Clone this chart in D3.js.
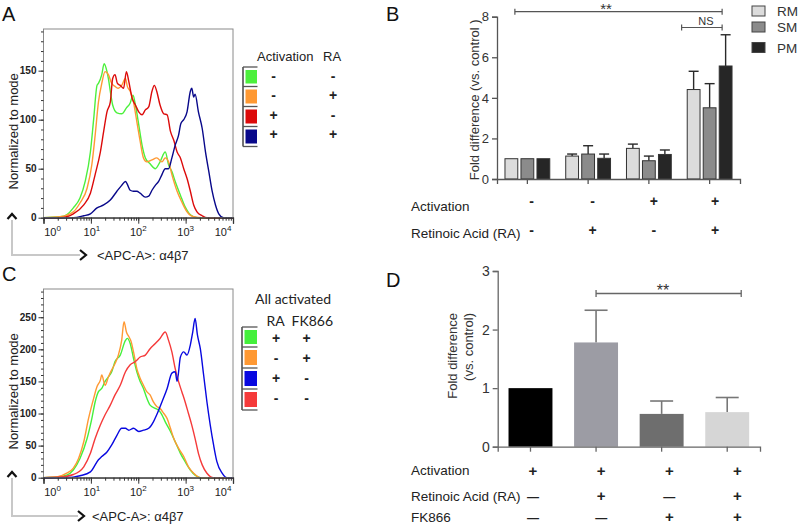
<!DOCTYPE html>
<html><head><meta charset="utf-8">
<script src="https://cdn.jsdelivr.net/npm/d3@7"></script>
<style>body{margin:0;background:#fff}svg{display:block}</style>
</head><body><svg id="c" width="800" height="528"></svg>
<script>
// ---------------- DATA ----------------
// Histograms: [log10(intensity), count]
const histA_green = [[0,0],[0.35,1],[0.49,3],[0.63,10],[0.77,20],[0.88,37],[0.99,67],[1.06,101],[1.13,135],[1.16,137],[1.23,146],[1.28,157],[1.34,149],[1.37,142],[1.41,129],[1.46,115],[1.55,107],[1.65,106],[1.75,112],[1.83,117],[1.89,125],[1.94,115],[2.01,95],[2.08,74],[2.15,61],[2.25,55],[2.36,50],[2.46,57],[2.57,67],[2.64,54],[2.71,47],[2.78,37],[2.89,23],[2.99,11],[3.10,3],[3.24,0],[4,0]];
const histA_orange = [[0,0],[0.35,1],[0.63,6],[0.77,15],[0.92,30],[1.02,54],[1.09,84],[1.16,118],[1.23,137],[1.30,149],[1.37,146],[1.44,137],[1.51,134],[1.58,132],[1.65,135],[1.73,142],[1.77,134],[1.83,129],[1.90,118],[1.97,98],[2.04,78],[2.11,61],[2.18,57],[2.29,59],[2.39,61],[2.50,57],[2.57,61],[2.64,57],[2.71,44],[2.82,27],[2.92,16],[3.03,6],[3.17,1],[3.35,0],[4,0]];
const histA_red = [[0,0],[0.35,0],[0.63,4],[0.85,13],[0.99,25],[1.09,44],[1.20,67],[1.27,88],[1.34,108],[1.41,118],[1.46,142],[1.51,146],[1.56,137],[1.62,135],[1.69,132],[1.75,149],[1.80,139],[1.87,122],[1.94,115],[2.01,108],[2.08,105],[2.15,110],[2.22,113],[2.29,129],[2.34,135],[2.39,129],[2.46,115],[2.54,106],[2.61,105],[2.68,88],[2.75,79],[2.82,67],[2.89,61],[2.96,50],[3.03,40],[3.10,27],[3.17,13],[3.24,6],[3.35,2],[3.45,0],[4,0]];
const histA_blue = [[0,0],[0.35,0],[0.63,0],[0.85,2],[0.99,4],[1.13,10],[1.27,13],[1.41,18],[1.55,27],[1.65,33],[1.73,37],[1.77,34],[1.83,28],[1.90,27],[1.97,27],[2.04,25],[2.15,21],[2.22,22],[2.29,28],[2.36,33],[2.43,37],[2.50,44],[2.57,50],[2.64,50],[2.71,61],[2.78,74],[2.85,84],[2.90,96],[2.96,100],[3.03,108],[3.10,129],[3.13,132],[3.17,123],[3.20,126],[3.27,108],[3.35,91],[3.42,67],[3.49,47],[3.56,27],[3.63,13],[3.70,4],[3.80,0],[4,0]];

const histC_green = [[0,0],[0.28,1],[0.49,4],[0.63,12],[0.77,30],[0.92,61],[1.02,92],[1.09,118],[1.16,134],[1.23,139],[1.30,150],[1.37,157],[1.44,165],[1.51,181],[1.62,191],[1.73,214],[1.77,217],[1.83,209],[1.90,186],[1.97,165],[2.04,150],[2.11,139],[2.18,124],[2.25,113],[2.36,108],[2.43,105],[2.50,98],[2.57,87],[2.68,72],[2.78,56],[2.89,38],[2.99,25],[3.10,12],[3.20,4],[3.31,0],[4,0]];
const histC_orange = [[0,0],[0.28,1],[0.49,7],[0.63,15],[0.74,30],[0.85,56],[0.95,92],[1.06,124],[1.13,142],[1.20,152],[1.23,160],[1.30,144],[1.37,157],[1.44,168],[1.51,178],[1.58,191],[1.65,214],[1.70,243],[1.75,227],[1.80,220],[1.85,212],[1.90,196],[1.97,170],[2.04,155],[2.11,144],[2.18,134],[2.25,129],[2.32,118],[2.39,111],[2.46,108],[2.54,100],[2.61,92],[2.68,77],[2.75,61],[2.85,46],[2.96,33],[3.06,17],[3.17,7],[3.31,0],[4,0]];
const histC_red = [[0,0],[0.35,1],[0.63,5],[0.85,17],[0.99,38],[1.09,61],[1.20,82],[1.30,98],[1.41,113],[1.51,129],[1.62,144],[1.73,165],[1.83,176],[1.94,181],[2.04,188],[2.15,191],[2.25,201],[2.36,209],[2.46,217],[2.57,227],[2.64,214],[2.71,196],[2.78,170],[2.85,150],[2.92,134],[2.99,118],[3.06,100],[3.13,82],[3.20,61],[3.27,38],[3.35,20],[3.45,7],[3.59,0],[4,0]];
const histC_blue = [[0,0],[0.49,0],[0.77,3],[0.99,9],[1.16,28],[1.23,33],[1.34,40],[1.44,51],[1.55,66],[1.65,77],[1.73,77],[1.80,74],[1.90,77],[2.01,72],[2.11,74],[2.22,77],[2.32,87],[2.39,98],[2.50,118],[2.61,139],[2.71,163],[2.78,165],[2.82,150],[2.89,188],[2.96,196],[3.03,191],[3.10,207],[3.15,227],[3.20,248],[3.25,222],[3.31,201],[3.38,160],[3.45,118],[3.52,82],[3.59,51],[3.66,25],[3.77,7],[3.87,0],[4,0]];

const xMajorTicks = [1, 10, 100, 1000, 10000];
const xMajorExp = ['0','1','2','3','4'];
const yTicksA = [0, 50, 100, 150];
const yTicksC = [0, 50, 100, 150, 200, 250];

const legendA_colors = ['#4cf03c', '#ff9933', '#dc0a0a', '#08088a'];
const legendA_activation = ['-', '-', '+', '+'];
const legendA_RA = ['-', '+', '-', '+'];
const legendC_colors = ['#44f03c', '#ff9933', '#0808e0', '#f53a3a'];
const legendC_RA = ['+', '-', '+', '-'];
const legendC_FK = ['+', '+', '-', '-'];

// Panel B
const groupsB = ['G1', 'G2', 'G3', 'G4'];
const seriesB = ['RM', 'SM', 'PM'];
const valuesRM = [1.0, 1.13, 1.51, 4.41];
const errRM    = [0, 0.10, 0.21, 0.90];
const valuesSM = [1.0, 1.23, 0.90, 3.51];
const errSM    = [0, 0.41, 0.23, 1.19];
const valuesPM = [1.0, 1.02, 1.21, 5.57];
const errPM    = [0, 0.21, 0.22, 1.54];
const activationB = ['-', '-', '+', '+'];
const raB = ['-', '+', '-', '+'];
const yTicksB = [0, 2, 4, 6, 8];

// Panel D
const catsD = ['C1', 'C2', 'C3', 'C4'];
const valuesD = [1.0, 1.78, 0.56, 0.59];
const errD = [0, 0.55, 0.22, 0.25];
const activationD = ['+', '+', '+', '+'];
const raD = ['\u2014', '+', '\u2014', '+'];
const fkD = ['\u2014', '\u2014', '+', '+'];
const yTicksD = [0, 1, 2, 3];

// ---------------- DRAW ----------------
const FONT = '"Liberation Sans", Arial, Helvetica, sans-serif';
const svg = d3.select('#c').attr('font-family', FONT);
svg.append('rect').attr('width', 800).attr('height', 528).attr('fill', '#fff');

function letter(t, x, y) {
  svg.append('text').attr('x', x).attr('y', y).attr('font-size', 20).attr('fill', '#111').text(t);
}
letter('A', 2, 21); letter('B', 386, 21); letter('C', 2, 281); letter('D', 386, 287);

function hist(top, bottom, yMax, yTicks, curves, colors) {
  const L = 43.5, R = 233;
  const x = d3.scaleLog().domain([1, 1e4]).range([L, R]);
  const y = d3.scaleLinear().domain([0, yMax]).range([bottom, top]);
  const g = svg.append('g');
  const line = d3.line().x(d => x(Math.pow(10, d[0]))).y(d => y(d[1])).curve(d3.curveMonotoneX);
  curves.forEach((c, i) => {
    g.append('path').datum(c).attr('d', line).attr('fill', 'none')
      .attr('stroke', colors[i]).attr('stroke-width', 1.4).attr('stroke-linejoin', 'round');
  });
  g.append('rect').attr('x', L).attr('y', top).attr('width', R - L).attr('height', bottom - top)
    .attr('fill', 'none').attr('stroke', '#8a8a8a').attr('stroke-width', 1);
  const xm = g.append('g').attr('transform', `translate(0,${bottom})`)
    .call(d3.axisBottom(x).tickValues(x.ticks()).tickSize(3).tickFormat(''));
  xm.select('.domain').remove();
  const xM = g.append('g').attr('transform', `translate(0,${bottom})`)
    .call(d3.axisBottom(x).tickValues(xMajorTicks).tickSize(6).tickFormat(''));
  xM.select('.domain').attr('stroke', '#333').attr('stroke-width', 1.3);
  g.selectAll('.tick line').attr('stroke', '#333');
  const offs = [9, 1, 0, 0, -10];
  xMajorTicks.forEach((v, i) => {
    const t = g.append('text').attr('x', x(v) + offs[i]).attr('y', bottom + 18.5)
      .attr('text-anchor', 'middle').attr('font-size', 11).attr('fill', '#222');
    t.append('tspan').text('10');
    t.append('tspan').attr('dy', -5).attr('font-size', 8).text(xMajorExp[i]);
  });
  const ym = g.append('g').attr('transform', `translate(${L},0)`)
    .call(d3.axisLeft(y).tickValues(d3.range(0, yMax, 10)).tickSize(2.5).tickFormat(''));
  ym.select('.domain').remove();
  const yM = g.append('g').attr('transform', `translate(${L},0)`)
    .call(d3.axisLeft(y).tickValues(yTicks).tickSize(5).tickFormat(d3.format('d')));
  yM.select('.domain').remove();
  yM.selectAll('text').attr('font-size', 10).attr('font-family', FONT).attr('fill', '#222').attr('x', -7).attr('font-weight', 'bold');
  g.selectAll('.tick line').attr('stroke', '#333');
  g.append('text').attr('transform', `translate(13,${(top + bottom) / 2 + 8}) rotate(-90)`)
    .attr('text-anchor', 'middle').attr('dominant-baseline', 'central').attr('font-size', 13).attr('fill', '#222')
    .text('Normalized to mode');
}

function arrows(yTop, yBot, xEnd, textX) {
  svg.append('path').attr('d', `M12,${yTop + 6}V${yBot}H${xEnd - 6}`).attr('fill', 'none')
    .attr('stroke', '#c8c8c8').attr('stroke-width', 2);
  svg.append('path').attr('d', `M7.5,${yTop + 5}L12,${yTop}L16.5,${yTop + 5}`).attr('fill', 'none')
    .attr('stroke', '#111').attr('stroke-width', 2.2);
  svg.append('path').attr('d', `M${xEnd - 6},${yBot - 5}L${xEnd},${yBot}L${xEnd - 6},${yBot + 5}`).attr('fill', 'none')
    .attr('stroke', '#111').attr('stroke-width', 2.2);
  svg.append('text').attr('x', textX).attr('y', yBot + 5).attr('font-size', 13).attr('fill', '#222')
    .text('<APC-A>: \u03b14\u03b27');
}

hist(29, 217.7, 192.5, yTicksA, [histA_green, histA_orange, histA_red, histA_blue], legendA_colors);
hist(289, 477.7, 294, yTicksC, [histC_green, histC_orange, histC_red, histC_blue],
  [legendC_colors[0], legendC_colors[1], legendC_colors[3], legendC_colors[2]]);
arrows(214, 255, 86, 97);
arrows(472, 516, 84, 92);

function legendBox(x0, x1, ys, colors) {
  const g = svg.append('g');
  g.append('line').attr('x1', x0).attr('x2', x0).attr('y1', ys[0]).attr('y2', ys[ys.length - 1])
    .attr('stroke', '#444').attr('stroke-width', 1.5);
  ys.forEach(yy => g.append('line').attr('x1', x0).attr('x2', x1).attr('y1', yy).attr('y2', yy)
    .attr('stroke', '#555').attr('stroke-width', 1.3));
  colors.forEach((c, i) => g.append('rect').attr('x', x0 + 2.5).attr('y', ys[i] + 3)
    .attr('width', x1 - x0 - 3).attr('height', ys[i + 1] - ys[i] - 6).attr('fill', c));
}
legendBox(243, 257.5, [67, 86.5, 106.5, 126.5, 146.5], legendA_colors);
svg.append('text').attr('x', 257).attr('y', 61).attr('font-size', 13).attr('fill', '#222').text('Activation');
svg.append('text').attr('x', 323).attr('y', 61).attr('font-size', 13).attr('fill', '#222').text('RA');
[76.5, 95, 115, 134].forEach((yy, i) => {
  svg.append('text').attr('x', 273.5).attr('y', yy + 4.5).attr('text-anchor', 'middle').attr('font-size', 14).attr('font-weight', 'bold').attr('fill', '#222').text(legendA_activation[i]);
  svg.append('text').attr('x', 333).attr('y', yy + 4.5).attr('text-anchor', 'middle').attr('font-size', 14).attr('font-weight', 'bold').attr('fill', '#222').text(legendA_RA[i]);
});
legendBox(242, 257.5, [327, 347, 368, 389, 410], legendC_colors);
svg.append('text').attr('x', 255).attr('y', 304).attr('font-size', 14).attr('font-family', 'Lato, "Open Sans", sans-serif').attr('fill', '#222').text('All activated');
svg.append('text').attr('x', 266.5).attr('y', 326).attr('font-size', 14).attr('font-family', 'Lato, "Open Sans", sans-serif').attr('fill', '#222').text('RA');
svg.append('text').attr('x', 291.5).attr('y', 326).attr('font-size', 14).attr('font-family', 'Lato, "Open Sans", sans-serif').attr('fill', '#222').text('FK866');
[338.5, 358, 378.5, 398.5].forEach((yy, i) => {
  svg.append('text').attr('x', 276).attr('y', yy + 4.5).attr('text-anchor', 'middle').attr('font-size', 14).attr('font-weight', 'bold').attr('fill', '#222').text(legendC_RA[i]);
  svg.append('text').attr('x', 306.5).attr('y', yy + 4.5).attr('text-anchor', 'middle').attr('font-size', 14).attr('font-weight', 'bold').attr('fill', '#222').text(legendC_FK[i]);
});

// ---------------- Panel B ----------------
(function () {
  const L = 497, R = 740, T = 16.7, B = 179;
  const x0 = d3.scaleBand().domain(groupsB).range([L, R]);
  const x1 = d3.scaleBand().domain(seriesB).range([-24, 24]).paddingInner(0.2).paddingOuter(0.1);
  const y = d3.scaleLinear().domain([0, 8]).range([B, T]);
  const vals = { RM: valuesRM, SM: valuesSM, PM: valuesPM };
  const errs = { RM: errRM, SM: errSM, PM: errPM };
  const fills = { RM: '#dcdcdc', SM: '#8b8b8b', PM: '#262626' };
  const g = svg.append('g');
  seriesB.forEach(s => {
    groupsB.forEach((gr, i) => {
      const cx = x0(gr) + x0.bandwidth() / 2 + x1(s);
      const v = vals[s][i], e = errs[s][i];
      if (e > 0) {
        const xm = cx + x1.bandwidth() / 2;
        g.append('line').attr('x1', xm).attr('x2', xm).attr('y1', y(v)).attr('y2', y(v + e)).attr('stroke', '#2a2a2a').attr('stroke-width', 1.4);
        g.append('line').attr('x1', xm - 5).attr('x2', xm + 5).attr('y1', y(v + e)).attr('y2', y(v + e)).attr('stroke', '#2a2a2a').attr('stroke-width', 1.4);
      }
      g.append('rect').attr('x', cx).attr('y', y(v)).attr('width', x1.bandwidth()).attr('height', y(0) - y(v))
        .attr('fill', fills[s]).attr('stroke', '#333').attr('stroke-width', 1);
    });
  });
  const ay = g.append('g').attr('transform', `translate(${L},0)`).call(d3.axisLeft(y).tickValues(yTicksB).tickSize(5).tickPadding(3).tickFormat(d3.format('d')));
  ay.selectAll('text').attr('font-size', 13).attr('font-family', FONT).attr('fill', '#333');
  g.append('g').attr('transform', `translate(0,${B})`).call(d3.axisBottom(x0).tickSize(5).tickFormat(''));
  g.selectAll('.domain, .tick line').attr('stroke', '#555').attr('stroke-width', 1.3);
  g.append('text').attr('transform', `translate(474,${(T + B) / 2 + 2}) rotate(-90)`).attr('text-anchor', 'middle')
    .attr('dominant-baseline', 'central').attr('font-size', 13).attr('fill', '#333').text('Fold difference (vs. control )');
  seriesB.forEach((s, i) => {
    const yy = [6, 22, 42.5][i];
    g.append('rect').attr('x', 752).attr('y', yy).attr('width', 13).attr('height', 10).attr('fill', fills[s]).attr('stroke', '#444').attr('stroke-width', 1);
    g.append('text').attr('x', 777).attr('y', yy + 10).attr('font-size', 13.5).attr('fill', '#333').text(s);
  });
  const c = gr => x0(gr) + x0.bandwidth() / 2;
  const br = (xa, xb, yy) => {
    g.append('line').attr('x1', xa).attr('x2', xb).attr('y1', yy).attr('y2', yy).attr('stroke', '#555').attr('stroke-width', 1.2);
    [xa, xb].forEach(xx => g.append('line').attr('x1', xx).attr('x2', xx).attr('y1', yy - 3).attr('y2', yy + 3).attr('stroke', '#555').attr('stroke-width', 1.2));
  };
  br(c('G1') - 12.5, c('G4') + 12.5, 11.7);
  g.append('text').attr('x', 606).attr('y', 14).attr('text-anchor', 'middle').attr('font-size', 15).attr('fill', '#333').text('**');
  br(c('G4') - 28, c('G4') + 12.5, 27.5);
  g.append('text').attr('x', 706).attr('y', 25).attr('text-anchor', 'middle').attr('font-size', 11).attr('fill', '#333').text('NS');
  const sx = d3.scalePoint().domain(groupsB).range([531.5, 715]);
  g.append('text').attr('x', 411).attr('y', 211).attr('font-size', 13.5).attr('fill', '#222').text('Activation');
  g.append('text').attr('x', 411).attr('y', 238).attr('font-size', 13.5).attr('fill', '#222').text('Retinoic Acid (RA)');
  groupsB.forEach((gr, i) => {
    g.append('text').attr('x', sx(gr)).attr('y', 206).attr('text-anchor', 'middle').attr('font-size', 14).attr('font-weight', 'bold').attr('fill', '#222').text(activationB[i]);
    g.append('text').attr('x', sx(gr)).attr('y', 235).attr('text-anchor', 'middle').attr('font-size', 14).attr('font-weight', 'bold').attr('fill', '#222').text(raB[i]);
  });
})();

// ---------------- Panel D ----------------
(function () {
  const L = 497.7, R = 760, T = 271, B = 446.7;
  const x = d3.scaleBand().domain(catsD).range([L, R]).paddingInner(0.33).paddingOuter(0.165);
  const y = d3.scaleLinear().domain([0, 3]).range([B, T]);
  const fills = ['#000000', '#9c9ca4', '#6e6e6e', '#d6d6d6'];
  const g = svg.append('g');
  catsD.forEach((cat, i) => {
    const v = valuesD[i], e = errD[i];
    const xm = x(cat) + x.bandwidth() / 2;
    if (e > 0) {
      g.append('line').attr('x1', xm).attr('x2', xm).attr('y1', y(v)).attr('y2', y(v + e)).attr('stroke', '#777').attr('stroke-width', 1.6);
      g.append('line').attr('x1', xm - 11.5).attr('x2', xm + 11.5).attr('y1', y(v + e)).attr('y2', y(v + e)).attr('stroke', '#777').attr('stroke-width', 1.6);
    }
    g.append('rect').attr('x', x(cat)).attr('y', y(v)).attr('width', x.bandwidth()).attr('height', y(0) - y(v)).attr('fill', fills[i]);
  });
  const ay = g.append('g').attr('transform', `translate(${L},0)`).call(d3.axisLeft(y).tickValues(yTicksD).tickSize(5).tickPadding(3).tickFormat(d3.format('d')));
  ay.selectAll('text').attr('font-size', 14).attr('font-family', FONT).attr('fill', '#333');
  g.append('g').attr('transform', `translate(0,${B})`).call(d3.axisBottom(x).tickSize(5).tickFormat(''));
  g.selectAll('.domain, .tick line').attr('stroke', '#666').attr('stroke-width', 1.3);
  g.append('text').attr('transform', `translate(452,313) rotate(-90)`).attr('text-anchor', 'end')
    .attr('dominant-baseline', 'central').attr('font-size', 13).attr('fill', '#333').text('Fold difference');
  g.append('text').attr('transform', `translate(468,313) rotate(-90)`).attr('text-anchor', 'end')
    .attr('dominant-baseline', 'central').attr('font-size', 13).attr('fill', '#333').text('(vs. control)');
  const xa = x('C2') + x.bandwidth() / 2, xb = x('C4') + x.bandwidth() / 2 + 14;
  g.append('line').attr('x1', xa).attr('x2', xb).attr('y1', 293.5).attr('y2', 293.5).attr('stroke', '#666').attr('stroke-width', 1.3);
  [xa, xb].forEach(xx => g.append('line').attr('x1', xx).attr('x2', xx).attr('y1', 290).attr('y2', 297).attr('stroke', '#666').attr('stroke-width', 1.3));
  g.append('text').attr('x', 663).attr('y', 296).attr('text-anchor', 'middle').attr('font-size', 16).attr('fill', '#333').text('**');
  const sx = d3.scalePoint().domain(catsD).range([533, 737.5]);
  g.append('text').attr('x', 411).attr('y', 475).attr('font-size', 13.5).attr('fill', '#222').text('Activation');
  g.append('text').attr('x', 411).attr('y', 501).attr('font-size', 13.5).attr('fill', '#222').text('Retinoic Acid (RA)');
  g.append('text').attr('x', 411).attr('y', 522).attr('font-size', 13.5).attr('fill', '#222').text('FK866');
  const rows = [[activationD, 476], [raD, 501], [fkD, 521.5]];
  rows.forEach(([arr, yy]) => catsD.forEach((cat, i) => {
    g.append('text').attr('x', sx(cat)).attr('y', yy).attr('text-anchor', 'middle').attr('font-size', arr[i] === '+' ? 15 : 12)
      .attr('font-weight', 'bold').attr('fill', '#222').text(arr[i]);
  }));
})();
</script></body></html>
